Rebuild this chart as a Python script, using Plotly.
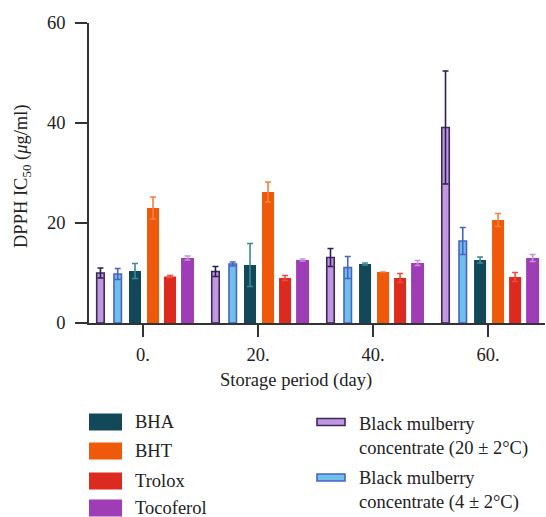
import plotly.graph_objects as go

days = [0, 20, 40, 60]
tick_labels = ["0.", "20.", "40.", "60."]

series_names = ["Black mulberry concentrate (20 ± 2°C)", "Black mulberry concentrate (4 ± 2°C)",
                "BHA", "BHT", "Trolox", "Tocoferol"]
bm20 = [10.0, 10.3, 13.1, 39.1]
bm20_err = [1.0, 1.0, 1.8, 11.3]
bm4 = [9.8, 11.8, 11.1, 16.4]
bm4_err = [1.1, 0.4, 2.2, 2.7]
bha = [10.4, 11.6, 11.8, 12.6]
bha_err = [1.5, 4.3, 0.2, 0.6]
bht = [23.0, 26.2, 10.2, 20.6]
bht_err = [2.2, 2.0, 0.0, 1.3]
trolox = [9.3, 9.0, 9.0, 9.2]
trolox_err = [0.2, 0.5, 0.9, 0.9]
toco = [13.0, 12.6, 12.0, 13.0]
toco_err = [0.4, 0.2, 0.5, 0.7]

values = [bm20, bm4, bha, bht, trolox, toco]
errors = [bm20_err, bm4_err, bha_err, bht_err, trolox_err, toco_err]

fills = ["#C097E0", "#6EC0E8", "#134858", "#EE5A0A", "#DD2A1E", "#9E3DB5"]
lines = ["#3A2A5C", "#4A62C4", None, None, None, None]
err_colors = ["#2D1E4D", "#4B62C0", "#3D8A94", "#F58040", "#F04A3A", "#C88EE0"]
offsets = [-7.4, -4.4, -1.39, 1.74, 4.7, 7.74]
widths = [1.3, 1.3, 2.09, 2.09, 2.09, 2.25]

FONT = "Liberation Serif"
TXT = "#222222"
FS = 18.5

fig = go.Figure()
for name, v, e, fc, lc, ec, off, w in zip(series_names, values, errors, fills, lines, err_colors, offsets, widths):
    fig.add_trace(go.Bar(
        x=days, y=v, name=name,
        offset=off - w / 2, width=w,
        marker=dict(color=fc, line=dict(color=lc if lc else fc, width=1.6 if lc else 0)),
        error_y=dict(type="data", array=e, visible=True, color=ec, thickness=1.6, width=3),
        showlegend=False,
    ))

X0, X1 = 89, 545
Y0, Y1 = 323, 23


def px(x):
    return (x - X0) / (X1 - X0)


def py(y):
    return (Y0 - y) / (Y0 - Y1)


shapes = []
annotations = []

# left legend column
left_items = ["BHA", "BHT", "Trolox", "Tocoferol"]
left_colors = fills[2:]
left_y = [422, 451, 481, 508]
for name, c, yc in zip(left_items, left_colors, left_y):
    shapes.append(dict(type="rect", xref="paper", yref="paper",
                       x0=px(89), x1=px(122), y0=py(yc - 8.5), y1=py(yc + 8.5),
                       fillcolor=c, line=dict(width=0)))
    annotations.append(dict(xref="paper", yref="paper", x=px(133), y=py(yc), text=name,
                            showarrow=False, xanchor="left", yanchor="middle",
                            font=dict(family=FONT, size=FS, color=TXT)))

right_items = ["Black mulberry<br>concentrate (20 ± 2°C)", "Black mulberry<br>concentrate (4 ± 2°C)"]
right_y = [422, 477.5]
right_text_y = [436, 490]
for name, c, lc, yc, ty in zip(right_items, fills[:2], lines[:2], right_y, right_text_y):
    shapes.append(dict(type="rect", xref="paper", yref="paper",
                       x0=px(317), x1=px(345), y0=py(yc - 3.5), y1=py(yc + 3.5),
                       fillcolor=c, line=dict(width=1.6, color=lc)))
    annotations.append(dict(xref="paper", yref="paper", x=px(357), y=py(ty), text=name,
                            showarrow=False, xanchor="left", yanchor="middle", align="left",
                            font=dict(family=FONT, size=FS, color=TXT)))

annotations.append(dict(xref="paper", yref="paper", x=px(22), y=py(176),
                        text="DPPH IC<sub>50</sub> (<i>μ</i>g/ml)", textangle=-90,
                        showarrow=False, xanchor="center", yanchor="middle",
                        font=dict(family=FONT, size=FS, color=TXT)))
annotations.append(dict(xref="paper", yref="paper", x=px(296), y=py(380),
                        text="Storage period (day)",
                        showarrow=False, xanchor="center", yanchor="middle",
                        font=dict(family=FONT, size=FS, color=TXT)))

fig.update_layout(
    width=546, height=517,
    margin=dict(l=X0, r=546 - X1, t=Y1, b=517 - Y0),
    plot_bgcolor="white", paper_bgcolor="white",
    barmode="overlay",
    font=dict(family=FONT, size=FS, color=TXT),
    shapes=shapes, annotations=annotations,
    xaxis=dict(range=[-9.39, 69.9], tickvals=days, ticktext=tick_labels,
               showline=True, linecolor="#333333", linewidth=1.8,
               ticks="outside", ticklen=12, tickwidth=1.5, tickcolor="#333333",
               showgrid=False, zeroline=False, ticklabelstandoff=2,
               tickfont=dict(family=FONT, size=FS, color=TXT)),
    yaxis=dict(range=[0, 60], tickvals=[0, 20, 40, 60],
               showline=True, linecolor="#333333", linewidth=1.8,
               ticks="outside", ticklen=12, tickwidth=1.5, tickcolor="#333333",
               showgrid=False, zeroline=False, ticklabelstandoff=6,
               tickfont=dict(family=FONT, size=FS, color=TXT)),
)

fig.write_html("out.html")
